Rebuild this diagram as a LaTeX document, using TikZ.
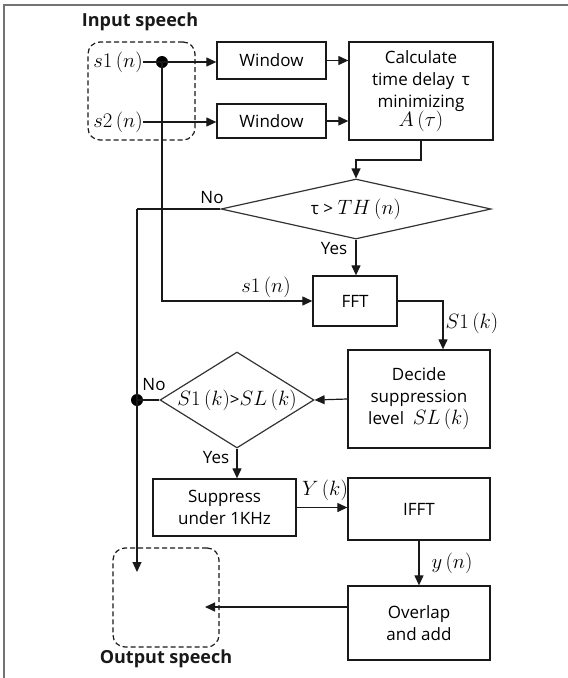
\documentclass[tikz,border=0pt]{standalone}
\usepackage{fontspec}
\setmainfont{Open Sans}
\usetikzlibrary{shapes.geometric,arrows.meta}
\newcommand{\mth}[1]{{\fontsize{20}{22}\selectfont$#1$}}
\begin{document}
\begin{tikzpicture}[x=1pt,y=-1pt,
  font=\fontsize{17}{22}\selectfont,
  line width=1.2pt,
  >={Triangle[length=10pt,width=9pt]},
  blk/.style={draw=black!90, line width=1.3pt, inner sep=0pt, align=center, minimum width=#1},
  dia/.style={draw=black!80, line width=1.2pt, shape=diamond, inner sep=0pt, align=center},
  dbox/.style={draw=black!90, dash pattern=on 5pt off 3pt, rounded corners=12pt, line width=1.2pt},
  conn/.style={draw=black!90, line width=1.2pt},
  lbl/.style={inner sep=0pt, text=black},
  ttl/.style={font=\fontsize{18}{20}\selectfont\bfseries, text=black!90, inner sep=0pt},
  dotnode/.style={circle, fill=black, inner sep=0pt, minimum size=12pt}
]
\useasboundingbox (0,0) rectangle (568,678);
\draw[black!55, line width=1.5pt] (4,678) -- (4,5) -- (568,5);

% dashed input/output boxes
\node[dbox, minimum width=107pt, minimum height=98pt] (inbox) at (141.5,91) {};
\node[dbox, minimum width=106pt, minimum height=99pt] (outbox) at (166,597.5) {};
\node[ttl] (intitle) at (140,22) {Input speech};
\node[ttl] (outtitle) at (166,659) {Output speech};

% signals
\node[lbl] (s1) at (118,62) {\mth{s1\,(n)}};
\node[lbl] (s2) at (118,122) {\mth{s2\,(n)}};
\node[dotnode] (dot1) at (162,62) {};

% blocks
\node[blk=109pt, minimum height=37pt] (win1) at (271.5,60.5) {Window};
\node[blk=109pt, minimum height=34pt] (win2) at (271.5,121) {Window};
\node[blk=144pt, minimum height=98pt] (calc) at (421,91) {Calculate\\time delay\, τ\\minimizing\\[-3pt]\mth{A\,(\tau)}};
\node[dia, minimum width=270pt, minimum height=60pt, aspect=4.5] (dia1) at (356,209) {τ > \mth{TH\,(n)}};
\node[blk=84pt, minimum height=50pt] (fft) at (355,301) {FFT};
\node[blk=142pt, minimum height=98pt] (decide) at (419,399) {Decide\\suppression\\level\ \ \mth{SL\,(k)}};
\node[dia, minimum width=154pt, minimum height=96pt, aspect=1.6] (dia2) at (237,400) {\mth{S1\,(k)}>\mth{SL\,(k)}};
\node[dotnode] (dot2) at (137,400) {};
\node[blk=143pt, minimum height=57pt] (supp) at (224.5,507.5) {Suppress\\under 1KHz};
\node[blk=142pt, minimum height=62pt] (ifft) at (419,509) {IFFT};
\node[blk=142pt, minimum height=74pt] (ovl) at (419,623) {Overlap\\and add};

% coordinates for bends
\coordinate (nocorner) at (137,209);
\coordinate (noend) at (137,572);
\coordinate (outin) at (205,607);
\coordinate (calcbend) at (421,160);
\coordinate (fftbend) at (443,301);

% connectors
\draw[conn] (s1.east) -- (dot1.center);
\draw[conn,->] (dot1.center) -- (win1.west |- dot1.center);
\draw[conn,->] (s2.east) -- (win2.west |- s2.east);
\draw[conn,->] (win1.east) -- (win1.east -| calc.west);
\draw[conn,->] (win2.east) -- (win2.east -| calc.west);
\draw[conn,->] (calc.south) -- (calcbend) -| (dia1.north);
\draw[conn] (dia1.west) -- (nocorner);
\draw[conn,->] (nocorner) -- (noend);
\draw[conn,->] (dot1.center) |- (fft.west);
\draw[conn,->] (dia1.south) -- (dia1.south |- fft.north);
\draw[conn,->] (fft.east) -- (fftbend) -- (fftbend |- decide.north);
\draw[conn,->] (decide.west) -- (dia2.east);
\draw[conn] (dia2.west) -- (dot2.center);
\draw[conn,->] (dia2.south) -- (dia2.south |- supp.north);
\draw[conn,->] (supp.east) -- (supp.east -| ifft.west);
\draw[conn,->] (ifft.south) -- (ovl.north);
\draw[conn,->] (ovl.west |- outin) -- (outin);

% labels
\node[lbl] (lno1) at (212,198) {No};
\node[lbl] (lyes1) at (334,249) {Yes};
\node[lbl] (ls1n) at (266,287) {\mth{s1\,(n)}};
\node[lbl] (lS1k) at (472,323) {\mth{S1\,(k)}};
\node[lbl] (lno2) at (154,385) {No};
\node[lbl] (lyes2) at (216,458) {Yes};
\node[lbl] (lYk) at (325,490) {\mth{Y\,(k)}};
\node[lbl] (lyn) at (452,563) {\mth{y\,(n)}};
\end{tikzpicture}
\end{document}
